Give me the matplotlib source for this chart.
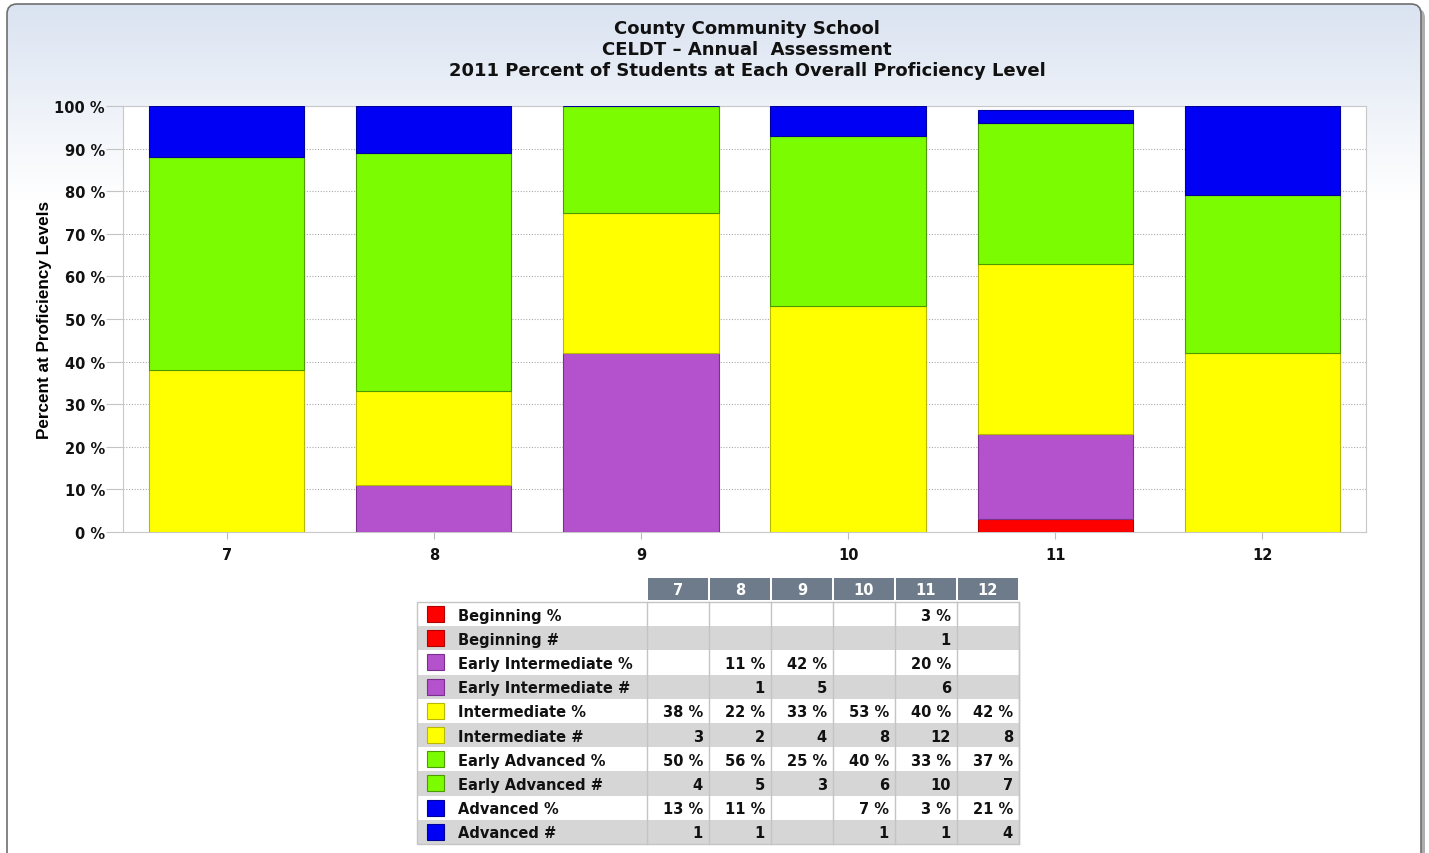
import numpy as np
import matplotlib
matplotlib.use("Agg")
import matplotlib.pyplot as plt
from matplotlib.patches import FancyBboxPatch, Rectangle

plt.rcParams['font.family'] = ['DejaVu Sans']

# data
grades = ['7', '8', '9', '10', '11', '12']
levels = ['Beginning', 'Early Intermediate', 'Intermediate', 'Early Advanced', 'Advanced']
level_colors = ['#ff0000', '#b452cd', '#ffff00', '#7cfc00', '#0000f5']
edge_colors = ['#b00000', '#7a2f8f', '#b8b800', '#4c9a00', '#00009a']

beginning_pct = [0, 0, 0, 0, 3, 0]
early_int_pct = [0, 11, 42, 0, 20, 0]
intermediate_pct = [38, 22, 33, 53, 40, 42]
early_adv_pct = [50, 56, 25, 40, 33, 37]
advanced_pct = [13, 11, 0, 7, 3, 21]

beginning_n = [0, 0, 0, 0, 1, 0]
early_int_n = [0, 1, 5, 0, 6, 0]
intermediate_n = [3, 2, 4, 8, 12, 8]
early_adv_n = [4, 5, 3, 6, 10, 7]
advanced_n = [1, 1, 0, 1, 1, 4]

pcts = [beginning_pct, early_int_pct, intermediate_pct, early_adv_pct, advanced_pct]
counts = [beginning_n, early_int_n, intermediate_n, early_adv_n, advanced_n]

W, H = 1429, 854
fig = plt.figure(figsize=(W / 100, H / 100), dpi=100)
fig.patch.set_facecolor('white')

# background panel (pixel coordinates)
bg = fig.add_axes([0, 0, 1, 1], zorder=0)
bg.set_xlim(0, W)
bg.set_ylim(H, 0)
bg.axis('off')

shadow = FancyBboxPatch((11, 9), 1414, 860, boxstyle='round,pad=0,rounding_size=10',
                        fc='#8a8a8a', ec='none', alpha=0.7, zorder=0)
bg.add_patch(shadow)
panel = FancyBboxPatch((7, 5), 1414, 860, boxstyle='round,pad=0,rounding_size=10',
                       fc='white', ec='none', zorder=0.5)
bg.add_patch(panel)
grad = np.linspace(0, 1, 200).reshape(-1, 1)
top_c = np.array([0.855, 0.89, 0.945])
img = top_c + (1 - top_c) * grad[..., None]
gim = bg.imshow(img, extent=(7, 1421, 200, 5), aspect='auto', zorder=1)
gim.set_clip_path(panel)
bg.add_patch(FancyBboxPatch((7, 5), 1414, 860, boxstyle='round,pad=0,rounding_size=10',
                            fc='none', ec='#6f6f6f', lw=1.2, zorder=5))

# titles
title_lines = ['County Community School', 'CELDT \u2013 Annual  Assessment',
               '2011 Percent of Students at Each Overall Proficiency Level']
for i, line in enumerate(title_lines):
    bg.text(747, 29 + 21 * i, line, ha='center', va='center', fontsize=13,
            fontweight='bold', color='#111111', zorder=3)

# chart
ax = fig.add_axes([123 / W, (H - 533) / H, 1243 / W, 426 / H], zorder=2)
x = np.arange(len(grades))
bottom = np.zeros(len(grades))
for vals, fc, ec in zip(pcts, level_colors, edge_colors):
    v = np.array(vals, dtype=float)
    top = np.minimum(bottom + v, 100)
    ax.bar(x, top - bottom, bottom=bottom, width=0.75, color=fc, edgecolor=ec,
           linewidth=0.8, zorder=3)
    bottom = top

ax.set_xlim(-0.5, len(grades) - 0.5)
ax.set_ylim(0, 100)
ax.set_yticks(np.arange(0, 101, 10))
ax.set_yticklabels([f'{t} %' for t in range(0, 101, 10)])
ax.set_xticks(x)
ax.set_xticklabels(grades)
ax.grid(axis='y', linestyle=(0, (1, 1.5)), color='#aaaaaa', linewidth=0.8, zorder=0)
for s in ax.spines.values():
    s.set_color('#c8c8c8')
ax.tick_params(axis='y', length=12, color='#c4c4c4', labelsize=10.5, pad=1)
ax.tick_params(axis='x', length=5, color='#bbbbbb', labelsize=10.5, pad=6)
for lab in ax.get_xticklabels() + ax.get_yticklabels():
    lab.set_fontweight('bold')
    lab.set_color('#111111')
ax.set_ylabel('Percent at Proficiency Levels', fontsize=12.3, fontweight='bold',
              family=['Liberation Sans', 'DejaVu Sans'], labelpad=2)

# data table
col_x = [647, 709, 771, 833, 895, 957, 1019]
head_top, head_bot = 579, 601
row_h = 24.2
row_top = 603
for j, g in enumerate(grades):
    bg.add_patch(Rectangle((col_x[j] + 1, head_top), col_x[j + 1] - col_x[j] - 2,
                           head_bot - head_top, fc='#6d7b8a', ec='none', zorder=2))
    bg.text((col_x[j] + col_x[j + 1]) / 2, (head_top + head_bot) / 2 + 1, g,
            ha='center', va='center', color='white', fontsize=10.5, fontweight='bold', zorder=3)

r = 0
for lvl, fc, ec, pv, nv in zip(levels, level_colors, edge_colors, pcts, counts):
    for suffix, vals in (('%', pv), ('#', nv)):
        y0 = row_top + r * row_h
        shade = '#ffffff' if r % 2 == 0 else '#d6d6d6'
        bg.add_patch(Rectangle((417, y0), 1019 - 417, row_h, fc=shade, ec='none', zorder=2))
        bg.add_patch(Rectangle((427, y0 + 4), 17, 16, fc=fc, ec=ec, lw=0.8, zorder=3))
        bg.text(458, y0 + row_h / 2 + 1, f'{lvl} {suffix}', ha='left', va='center',
                fontsize=10.5, fontweight='bold', color='#111111', zorder=3)
        for j, v in enumerate(vals):
            if v:
                txt = f'{v} %' if suffix == '%' else f'{v}'
                bg.text(col_x[j + 1] - 6, y0 + row_h / 2 + 1, txt, ha='right', va='center',
                        fontsize=10.5, fontweight='bold', color='#111111', zorder=3)
        r += 1

table_bot = row_top + r * row_h
bg.add_patch(Rectangle((417, row_top), 1019 - 417, table_bot - row_top, fc='none',
                       ec='#c4c4c4', lw=1, zorder=4))
for cx in col_x:
    bg.plot([cx, cx], [row_top, table_bot], color='#c4c4c4', lw=1, zorder=4)

fig.savefig('out.png', dpi=100)
